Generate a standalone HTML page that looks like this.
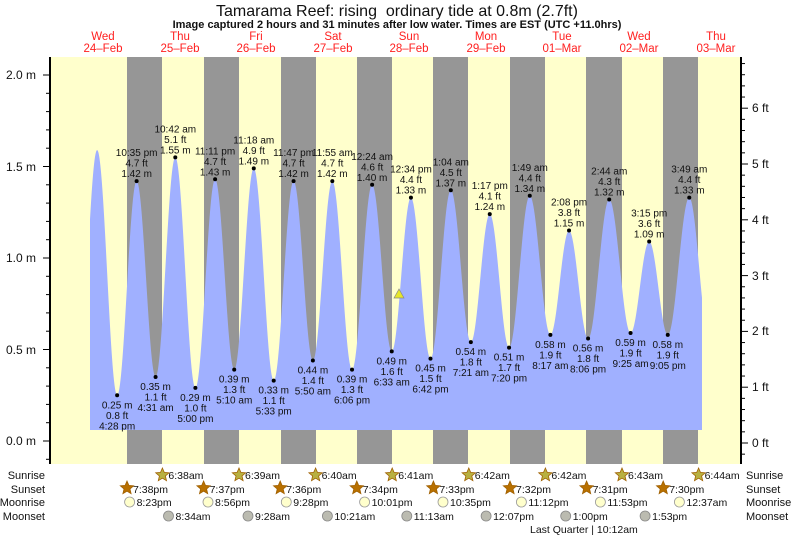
<!DOCTYPE html>
<html><head><meta charset="utf-8"><style>
html,body{margin:0;padding:0;background:#fff;}
svg{display:block;font-family:"Liberation Sans",sans-serif;}
</style></head><body>
<svg id="s" width="793" height="537" viewBox="0 0 793 537" xmlns="http://www.w3.org/2000/svg">
<rect x="50" y="57" width="690" height="407" fill="#ffffcc"/>
<g fill="#969696">
<rect x="127" y="57" width="35" height="407"/><rect x="204" y="57" width="35" height="407"/>
<rect x="281" y="57" width="35" height="407"/><rect x="357" y="57" width="35" height="407"/>
<rect x="433" y="57" width="35" height="407"/><rect x="510" y="57" width="35" height="407"/>
<rect x="586" y="57" width="36" height="407"/><rect x="663" y="57" width="35" height="407"/>
</g>
<path id="tide" fill="#a0b0ff" d=""/>
<polygon points="399,289 394,298 404,298" fill="#e6e62a" stroke="#888" stroke-width="0.7"/>
<g id="lbl" font-size="10" fill="#111" text-anchor="middle"></g>
<text x="397" y="16" font-size="16" text-anchor="middle" fill="#111">Tamarama Reef: rising&#160; ordinary tide at 0.8m (2.7ft)</text>
<text x="397" y="28" font-size="11" font-weight="bold" text-anchor="middle" fill="#111">Image captured 2 hours and 31 minutes after low water. Times are EST (UTC +11.0hrs)</text>
<g font-size="11.5" fill="#ff2020" text-anchor="middle">
<text x="103" y="40">Wed</text><text x="103" y="52">24–Feb</text>
<text x="180" y="40">Thu</text><text x="180" y="52">25–Feb</text>
<text x="256" y="40">Fri</text><text x="256" y="52">26–Feb</text>
<text x="333" y="40">Sat</text><text x="333" y="52">27–Feb</text>
<text x="409" y="40">Sun</text><text x="409" y="52">28–Feb</text>
<text x="486" y="40">Mon</text><text x="486" y="52">29–Feb</text>
<text x="562" y="40">Tue</text><text x="562" y="52">01–Mar</text>
<text x="639" y="40">Wed</text><text x="639" y="52">02–Mar</text>
<text x="716" y="40">Thu</text><text x="716" y="52">03–Mar</text>
</g>
<line x1="50" y1="57" x2="50" y2="464" stroke="#000" stroke-width="2"/>
<line x1="741" y1="57" x2="741" y2="464" stroke="#000" stroke-width="2"/>
<g id="ticks" stroke="#000" stroke-width="1"></g>
<g font-size="12" fill="#111" text-anchor="end">
<text x="36" y="79">2.0 m</text><text x="36" y="171">1.5 m</text><text x="36" y="262">1.0 m</text>
<text x="36" y="354">0.5 m</text><text x="36" y="445">0.0 m</text>
</g>
<g font-size="12" fill="#111">
<text x="752" y="447">0 ft</text><text x="752" y="391">1 ft</text><text x="752" y="335">2 ft</text>
<text x="752" y="280">3 ft</text><text x="752" y="224">4 ft</text><text x="752" y="168">5 ft</text><text x="752" y="112">6 ft</text>
</g>
<g font-size="11" fill="#111" text-anchor="end">
<text x="45" y="479">Sunrise</text><text x="45" y="493">Sunset</text><text x="45" y="506">Moonrise</text><text x="45" y="520">Moonset</text>
</g>
<g font-size="11" fill="#111">
<text x="746" y="479">Sunrise</text><text x="746" y="493">Sunset</text><text x="746" y="506">Moonrise</text><text x="746" y="520">Moonset</text>
</g>
<g id="astro" font-size="10.5" fill="#111"></g>
<text x="530" y="533" font-size="10.5" fill="#111">Last Quarter | 10:12am</text>
</svg>
<script>
var NS="http://www.w3.org/2000/svg";
function X(h){return 64.6+3.19*h;}
function Y(m){return 441-183*m;}
var ex=[[10.2,1.59,null,null,0],[16.47,0.25,"4:28 pm","0.8 ft",1],[22.58,1.42,"10:35 pm","4.7 ft",0],[28.52,0.35,"4:31 am","1.1 ft",1],
[34.7,1.55,"10:42 am","5.1 ft",0],[41,0.29,"5:00 pm","1.0 ft",1],[47.18,1.43,"11:11 pm","4.7 ft",0],[53.17,0.39,"5:10 am","1.3 ft",1],
[59.3,1.49,"11:18 am","4.9 ft",0],[65.55,0.33,"5:33 pm","1.1 ft",1],[71.78,1.42,"11:47 pm","4.7 ft",0],[77.83,0.44,"5:50 am","1.4 ft",1],
[83.92,1.42,"11:55 am","4.7 ft",0],[90.1,0.39,"6:06 pm","1.3 ft",1],[96.4,1.40,"12:24 am","4.6 ft",0],[102.55,0.49,"6:33 am","1.6 ft",1],
[108.57,1.33,"12:34 pm","4.4 ft",0],[114.7,0.45,"6:42 pm","1.5 ft",1],[121.07,1.37,"1:04 am","4.5 ft",0],[127.35,0.54,"7:21 am","1.8 ft",1],
[133.28,1.24,"1:17 pm","4.1 ft",0],[139.33,0.51,"7:20 pm","1.7 ft",1],[145.82,1.34,"1:49 am","4.4 ft",0],[152.28,0.58,"8:17 am","1.9 ft",1],
[158.13,1.15,"2:08 pm","3.8 ft",0],[164.1,0.56,"8:06 pm","1.8 ft",1],[170.73,1.32,"2:44 am","4.3 ft",0],[177.42,0.59,"9:25 am","1.9 ft",1],
[183.25,1.09,"3:15 pm","3.6 ft",0],[189.08,0.58,"9:05 pm","1.9 ft",1],[195.82,1.33,"3:49 am","4.4 ft",0],[202,0.57,null,null,1]];
function H(h){for(var i=0;i<ex.length-1;i++){var a=ex[i],b=ex[i+1];if(h>=a[0]&&h<=b[0]){var t=(h-a[0])/(b[0]-a[0]);return a[1]+(b[1]-a[1])*(1-Math.cos(Math.PI*t))/2;}}
var a=ex[0],b=ex[1];var t=(h-a[0])/(b[0]-a[0]);return a[1]+(b[1]-a[1])*(1-Math.cos(Math.PI*t))/2;}
var d="M90,430";for(var x=90;x<=702;x+=0.5){d+=" L"+x+","+Y(H((x-64.6)/3.19)).toFixed(1);}d+=" L702,430 Z";
document.getElementById("tide").setAttribute("d",d);
var g=document.getElementById("lbl");
function T(x,y,s){var e=document.createElementNS(NS,"text");e.setAttribute("x",x);e.setAttribute("y",y);e.textContent=s;g.appendChild(e);}
ex.forEach(function(e){if(!e[2])return;var x=X(e[0]),y=Y(e[1]);var c=document.createElementNS(NS,"circle");c.setAttribute("cx",x);c.setAttribute("cy",y);c.setAttribute("r",2);c.setAttribute("fill","#000");g.appendChild(c);
var m=e[1].toFixed(2)+" m";if(e[4]){T(x,y+13,m);T(x,y+23.5,e[3]);T(x,y+34,e[2]);}else{T(x,y-4,m);T(x,y-14.5,e[3]);T(x,y-25,e[2]);}});
var tk=document.getElementById("ticks");
function L(x1,y1,x2,y2){var l=document.createElementNS(NS,"line");l.setAttribute("x1",x1);l.setAttribute("y1",y1);l.setAttribute("x2",x2);l.setAttribute("y2",y2);tk.appendChild(l);}
for(var i=-1;i<=21;i++){var y=441-18.3*i;if(y<58||y>463)continue;if(i%5==0)L(43,y,50,y);else L(46,y,50,y);}
for(var i=-1;i<=35;i++){var y=443-11.16*i;if(y<58||y>463)continue;if(i%5==0)L(741,y,748,y);else L(741,y,745,y);}
var A=document.getElementById("astro");
function star(cx,cy,fill){var p="";for(var k=0;k<10;k++){var r=k%2?3.2:7,a=-Math.PI/2+k*Math.PI/5;p+=(cx+r*Math.cos(a)).toFixed(1)+","+(cy+r*Math.sin(a)).toFixed(1)+" ";}
var e=document.createElementNS(NS,"polygon");e.setAttribute("points",p);e.setAttribute("fill",fill);e.setAttribute("stroke","#a06000");e.setAttribute("stroke-width","0.8");A.appendChild(e);}
function circ(cx,cy,fill,st){var e=document.createElementNS(NS,"circle");e.setAttribute("cx",cx);e.setAttribute("cy",cy);e.setAttribute("r",5);e.setAttribute("fill",fill);e.setAttribute("stroke",st);e.setAttribute("stroke-width","0.8");A.appendChild(e);}
function tx(x,y,s){var e=document.createElementNS(NS,"text");e.setAttribute("x",x);e.setAttribute("y",y);e.textContent=s;A.appendChild(e);}
var sr=["6:38am","6:39am","6:40am","6:41am","6:42am","6:42am","6:43am","6:44am"];
var ss=["7:38pm","7:37pm","7:36pm","7:34pm","7:33pm","7:32pm","7:31pm","7:30pm"];
for(var i=0;i<8;i++){var x=162.4+76.6*i;star(x,475,"#b8b040");tx(x+6,479,sr[i]);
var x2=127+76.6*i;star(x2,488,"#b87000");tx(x2+6,493,ss[i]);}
var mr=[[129.6,"8:23pm"],[208,"8:56pm"],[286.3,"9:28pm"],[364.6,"10:01pm"],[443,"10:35pm"],[521.4,"11:12pm"],[600.4,"11:53pm"],[679.4,"12:37am"]];
mr.forEach(function(m){circ(m[0],502,"#ffffcc","#999");tx(m[0]+7,506,m[1]);});
var ms=[[168.5,"8:34am"],[248,"9:28am"],[327.4,"10:21am"],[406.8,"11:13am"],[486.1,"12:07pm"],[565.7,"1:00pm"],[645.1,"1:53pm"]];
ms.forEach(function(m){circ(m[0],516,"#bbbbb0","#888");tx(m[0]+7,520,m[1]);});
</script>
</body></html>
